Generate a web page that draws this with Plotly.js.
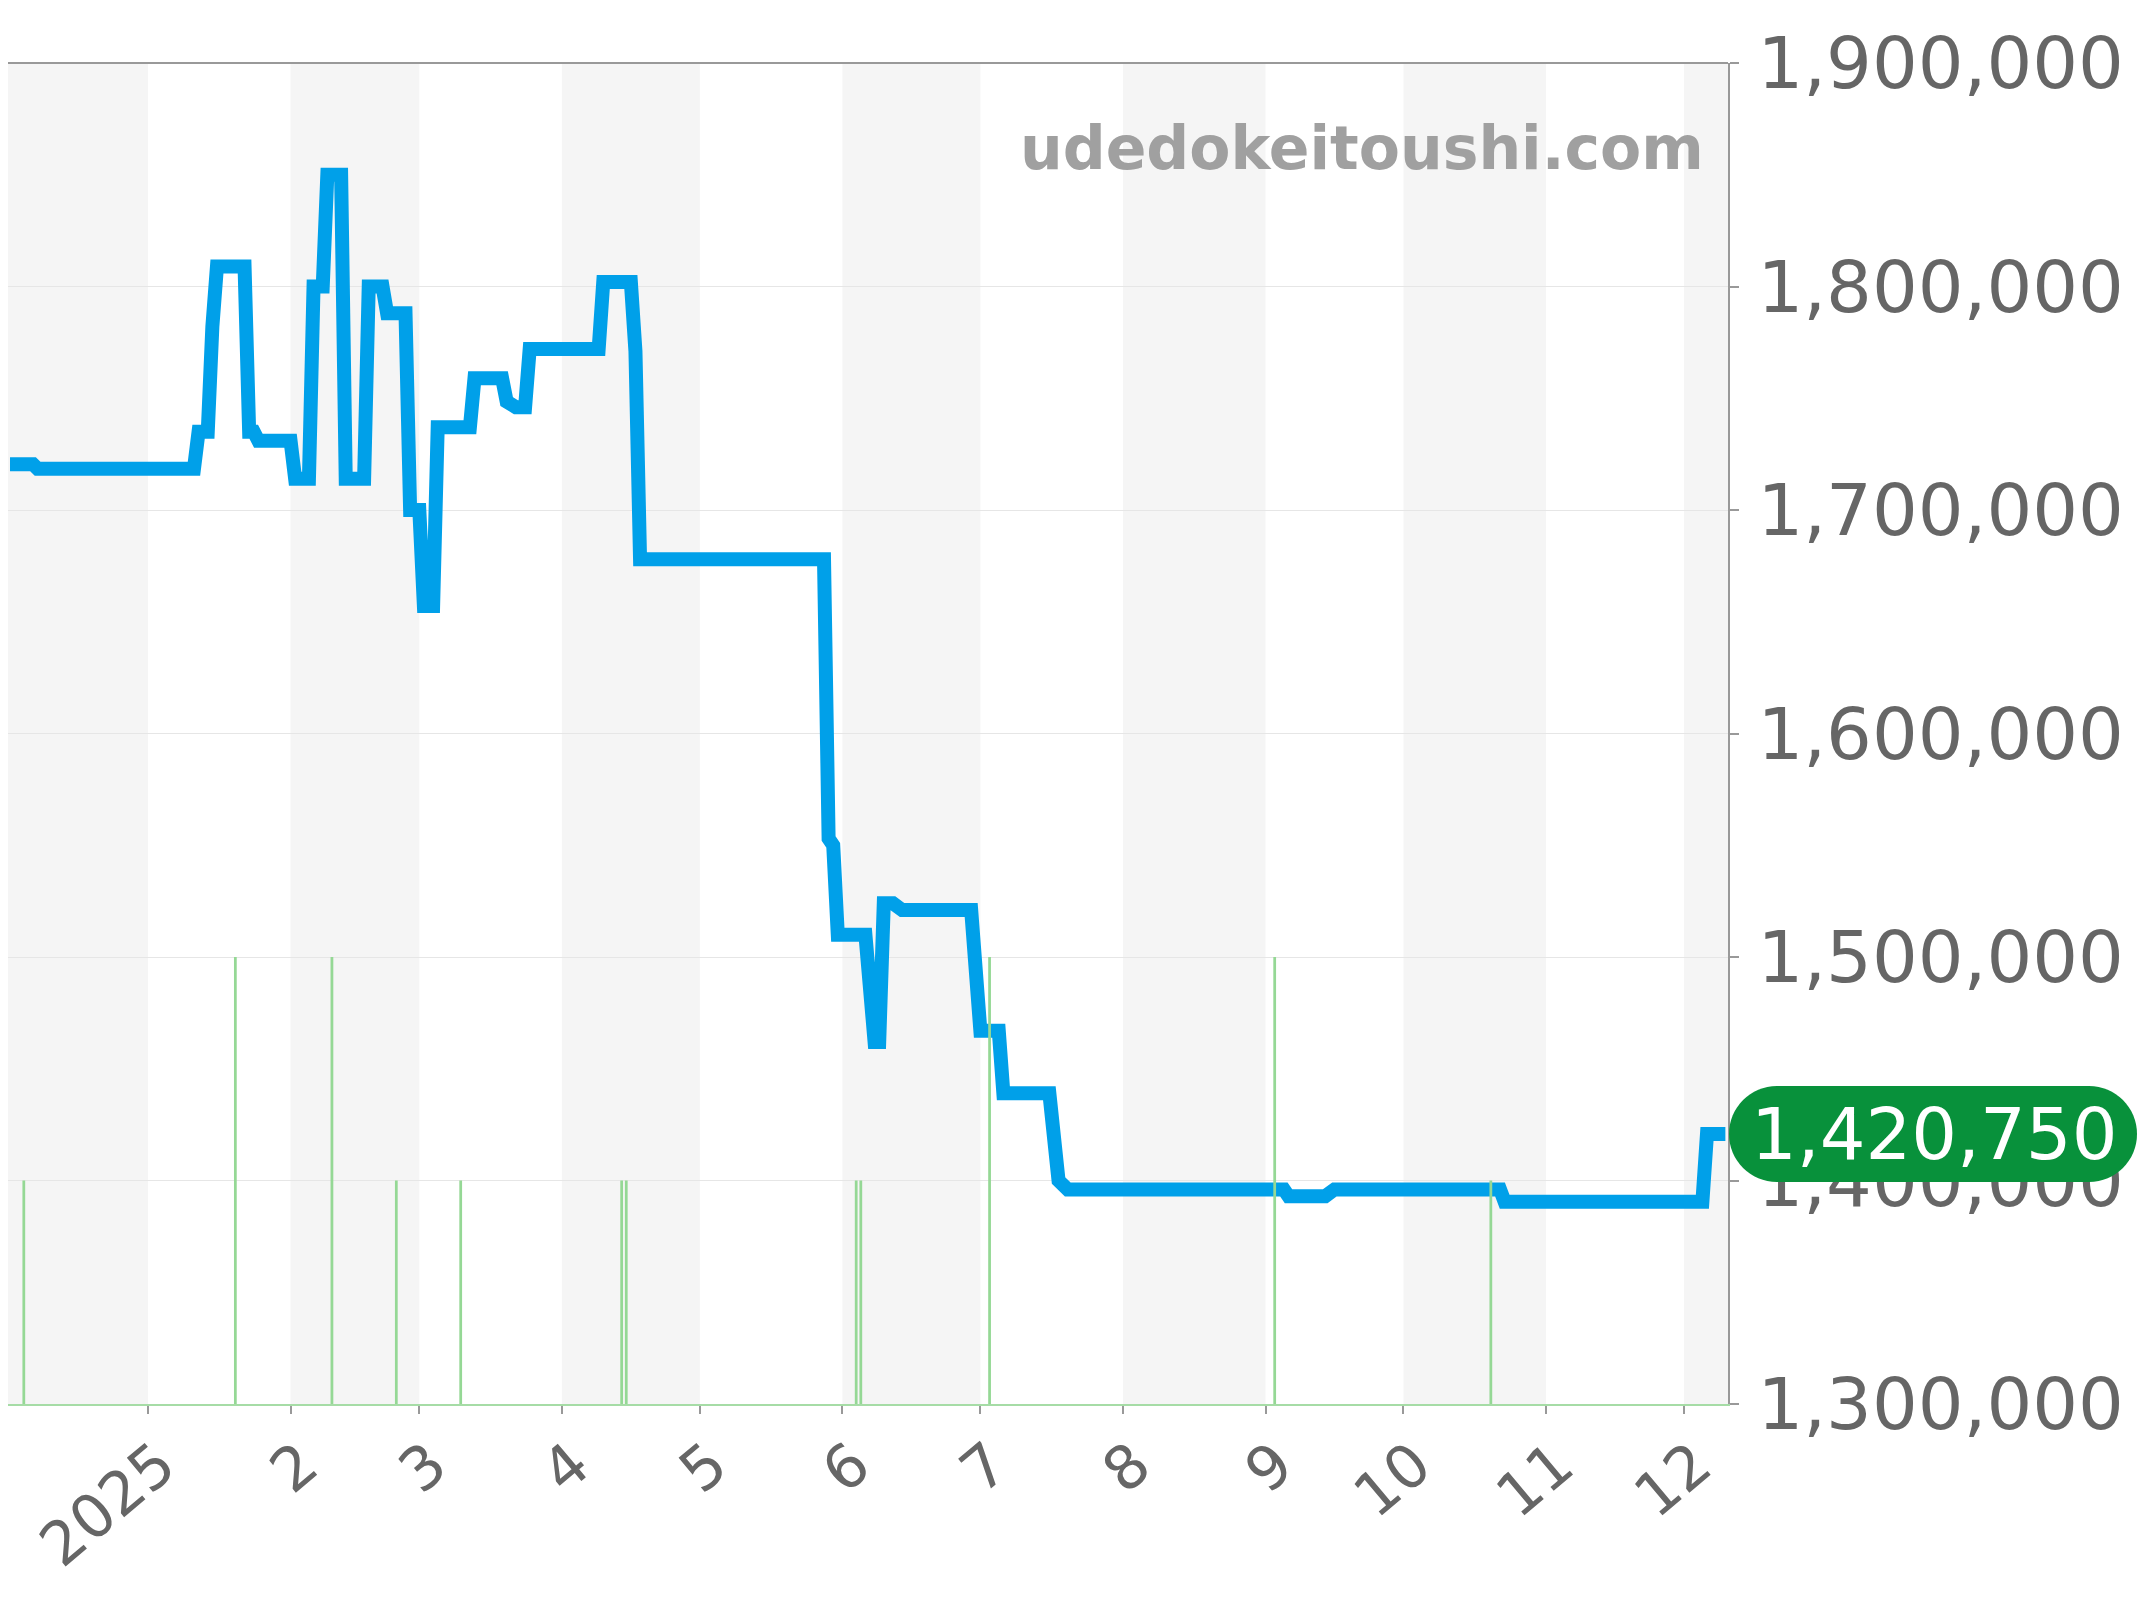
<!DOCTYPE html>
<html>
<head>
<meta charset="utf-8">
<script src="https://cdn.plot.ly/plotly-3.0.1.min.js"></script>
<style>
html,body{margin:0;padding:0;background:#ffffff;}
#chart{width:2144px;height:1600px;}
</style>
</head>
<body>
<div id="chart"></div>
<script>
// ---- data ----
const priceDates = [
  '2024-12-02','2024-12-07','2024-12-08','2025-01-11','2025-01-12','2025-01-14','2025-01-15','2025-01-16',
  '2025-01-22','2025-01-23','2025-01-24','2025-01-25','2025-02-01','2025-02-02','2025-02-05','2025-02-06',
  '2025-02-08','2025-02-09','2025-02-12','2025-02-13','2025-02-17','2025-02-18','2025-02-21','2025-02-22',
  '2025-02-26','2025-02-27','2025-03-01','2025-03-02','2025-03-04','2025-03-05','2025-03-12','2025-03-13',
  '2025-03-19','2025-03-20','2025-03-22','2025-03-24','2025-03-25','2025-04-09','2025-04-10','2025-04-16',
  '2025-04-17','2025-04-18','2025-05-28','2025-05-29','2025-05-30','2025-05-31','2025-06-06','2025-06-07',
  '2025-06-08','2025-06-09','2025-06-10','2025-06-12','2025-06-14','2025-06-29','2025-06-30','2025-07-01',
  '2025-07-05','2025-07-06','2025-07-16','2025-07-18','2025-07-20','2025-09-05','2025-09-06','2025-09-14',
  '2025-09-16','2025-10-22','2025-10-23','2025-12-05','2025-12-06','2025-12-10'
];
const priceValues = [
  1720500,1720500,1718500,1718500,1735000,1735000,1782000,1809000,
  1809000,1735000,1735000,1731000,1731000,1714000,1714000,1800000,
  1800000,1850000,1850000,1714000,1714000,1800000,1800000,1788000,
  1788000,1700000,1700000,1657000,1657000,1737000,1737000,1759000,
  1759000,1748500,1746000,1746000,1772000,1772000,1802000,1802000,
  1771000,1678000,1678000,1553000,1550000,1510000,1510000,1490000,
  1462000,1462000,1524000,1524000,1521000,1521000,1490000,1467000,
  1467000,1439000,1439000,1400000,1396000,1396000,1393000,1393000,
  1396000,1396000,1390500,1390500,1420750,1420750
];
const salesDates = ['2024-12-05','2025-01-20','2025-02-10','2025-02-24','2025-03-10','2025-04-14',
                    '2025-04-15','2025-06-04','2025-06-05','2025-07-03','2025-09-03','2025-10-20'];
const salesCounts = [1,2,2,1,1,1,1,1,1,2,2,1];
const monthStarts = ['2024-12-01','2025-01-01','2025-02-01','2025-03-01','2025-04-01','2025-05-01','2025-06-01',
                     '2025-07-01','2025-08-01','2025-09-01','2025-10-01','2025-11-01','2025-12-01','2026-01-01'];
const tickVals = monthStarts.slice(1, 13);
const tickText = ['2025','2','3','4','5','6','7','8','9','10','11','12'];
const watermark = 'udedokeitoushi.com';

// ---- figure ----
const FONT = 'DejaVu Sans';
const lastValue = priceValues[priceValues.length - 1];
const lastLabel = lastValue.toLocaleString('en-US');

const shapes = [];
for (let i = 0; i < monthStarts.length - 1; i++) {
  const m = parseInt(monthStarts[i].slice(5, 7), 10);
  if (m % 2 === 0) {
    shapes.push({type:'rect', xref:'x', yref:'paper', x0:monthStarts[i], x1:monthStarts[i+1], y0:0, y1:1,
                 fillcolor:'#f5f5f5', line:{width:0}, layer:'below'});
  }
}
// top border
shapes.push({type:'line', xref:'paper', yref:'paper', x0:0, x1:1, y0:1, y1:1,
             line:{color:'#999999', width:2}, layer:'above'});
// pill behind the latest value
function pillPath(x0, x1, h) {
  const r = h, k = 0.5523 * r;
  return `M${x0+r},${h} L${x1-r},${h} C${x1-r+k},${h} ${x1},${k} ${x1},0 ` +
         `C${x1},${-k} ${x1-r+k},${-h} ${x1-r},${-h} L${x0+r},${-h} ` +
         `C${x0+r-k},${-h} ${x0},${-k} ${x0},0 C${x0},${k} ${x0+r-k},${h} ${x0+r},${h} Z`;
}
shapes.push({type:'path', xref:'paper', yref:'y', xsizemode:'pixel', ysizemode:'pixel',
             xanchor:1, yanchor:lastValue, path:pillPath(1, 409, 48),
             fillcolor:'#08913b', line:{width:0}, layer:'above'});

const traces = [
  {type:'bar', x:salesDates, y:salesCounts, yaxis:'y2', width:0.6*86400000,
   marker:{color:'#95d895', line:{width:0}}, hoverinfo:'skip', showlegend:false},
  {type:'scatter', mode:'lines', x:priceDates, y:priceValues,
   line:{color:'#00a0e9', width:14, shape:'linear'}, hoverinfo:'skip', showlegend:false}
];

const layout = {
  width:2144, height:1600,
  margin:{l:8, r:416, t:63, b:196, pad:0},
  paper_bgcolor:'#ffffff', plot_bgcolor:'#ffffff',
  font:{family:FONT, color:'#666666'},
  showlegend:false,
  xaxis:{
    type:'date', range:['2024-12-01 13:30','2025-12-10 13:40'],
    tickmode:'array', tickvals:tickVals, ticktext:tickText, tickangle:-40,
    tickfont:{family:FONT, size:60, color:'#666666'},
    ticks:'outside', ticklen:8, tickwidth:2, tickcolor:'#999999',
    ticklabelshift:12, ticklabelstandoff:-8,
    showgrid:false, zeroline:false,
    showline:true, linecolor:'#a6dca6', linewidth:2
  },
  yaxis:{
    side:'right', range:[1300000,1900000], dtick:100000, tick0:1300000, tickformat:',d',
    tickfont:{family:FONT, size:72, color:'#666666'},
    ticks:'outside', ticklen:9, tickwidth:2, tickcolor:'#999999',
    ticklabelstandoff:4,
    showgrid:true, gridcolor:'#e6e6e6', gridwidth:1, zeroline:false,
    showline:true, linecolor:'#999999', linewidth:2
  },
  yaxis2:{overlaying:'y', range:[0,6], visible:false, showgrid:false, zeroline:false, fixedrange:true},
  shapes:shapes,
  annotations:[
    {text:watermark, xref:'paper', yref:'y', x:1, y:1862000, xanchor:'right', yanchor:'middle',
     xshift:-22, showarrow:false, font:{family:FONT, size:60, color:'#a0a0a0', weight:'bold'}},
    {text:lastLabel, xref:'paper', yref:'y', x:1, y:lastValue, xanchor:'center', yanchor:'middle',
     xshift:206, showarrow:false, font:{family:FONT, size:72, color:'#ffffff'}}
  ]
};

Plotly.newPlot('chart', traces, layout, {staticPlot:true, displayModeBar:false});
</script>
</body>
</html>
